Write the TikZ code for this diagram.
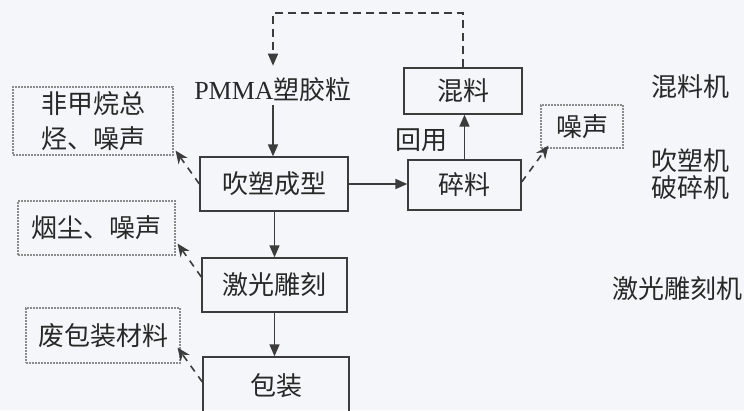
\documentclass[tikz,border=0pt]{standalone}
\usepackage{fontspec}
\setmainfont{Liberation Serif}
\newfontfamily\cjk{Noto Sans CJK SC}
\usetikzlibrary{arrows.meta,calc}
\definecolor{bg}{RGB}{244,246,249}
\definecolor{linec}{RGB}{60,60,60}
\definecolor{dotc}{RGB}{140,140,140}
\definecolor{txtc}{RGB}{40,40,40}
\tikzset{
  proc/.style={draw=linec, line width=1.3pt, inner sep=0pt, text=txtc,
    font=\cjk\fontsize{26}{28}\selectfont},
  emis/.style={draw=dotc, line width=1.1pt, dash pattern=on 1.6pt off 1.4pt, inner sep=0pt,
    text=txtc, align=center, font=\cjk\fontsize{26}{35}\selectfont},
  lbl/.style={inner sep=0pt, text=txtc, font=\cjk\fontsize{26}{28}\selectfont},
  flow/.style={draw=linec, line width=1.6pt, -{Triangle[length=12pt,width=10pt]}},
  emarr/.style={draw=linec, line width=1.6pt, dash pattern=on 7pt off 6pt,
    -{Stealth[length=13pt,width=11pt]}},
  recyc/.style={draw=linec, line width=1.5pt, dash pattern=on 8pt off 5pt,
    -{Triangle[length=12pt,width=10pt]}}
}
\begin{document}
\begin{tikzpicture}[x=1pt,y=-1pt]
\useasboundingbox[fill=bg] (0,0) rectangle (744,410);
% process boxes
\node[proc, minimum width=148pt, minimum height=54pt] (blow) at (274,184) {吹塑成型};
\node[proc, minimum width=145pt, minimum height=54pt] (laser) at (274.5,285) {激光雕刻};
\node[proc, minimum width=146pt, minimum height=58pt] (pack) at (276,386) {包装};
\node[proc, minimum width=118pt, minimum height=46pt] (mix) at (463,91) {混料};
\node[proc, minimum width=113pt, minimum height=50pt] (crush) at (464.5,185) {碎料};
% emission boxes
\node[emis, minimum width=160pt, minimum height=68pt] (em1) at (93,121) {非甲烷总\\烃、噪声};
\node[emis, minimum width=157pt, minimum height=54pt] (em2) at (96.5,228) {烟尘、噪声};
\node[emis, minimum width=154pt, minimum height=55pt] (em3) at (103,335.5) {废包装材料};
\node[emis, minimum width=82pt, minimum height=43pt] (noise) at (582,126.5) {噪声};
% raw material
\node[inner sep=0pt, text=txtc, font=\fontsize{26}{28}\selectfont] (pmma) at (273,90) {PMMA{\cjk 塑胶粒}};
% labels
\node[lbl] (reuse) at (421,140) {回用};
\node[lbl] (m1) at (690,87) {混料机};
\node[lbl] (m2) at (690,161) {吹塑机};
\node[lbl] (m3) at (690,188) {破碎机};
\node[lbl] (m4) at (677,289) {激光雕刻机};
% main flow
\draw[flow] ($(pmma.south)+(0,3)$) -- (pmma.south |- blow.north);
\draw[flow] (laser.north |- blow.south) -- (laser.north);
\draw[flow] (laser.south) -- (laser.south |- pack.north);
\draw[flow] (blow.east) -- (blow.east -| crush.west);
\draw[flow] (crush.north) -- (crush.north |- mix.south);
% recycle
\coordinate (top) at (463,13);
\draw[recyc] (mix.north) -- (top) -| ($(pmma.north)+(0,-12)$);
% emissions
\draw[emarr] (blow.west) -- ($(em1.south east)+(2,-5)$);
\draw[emarr] ($(laser.west)+(0,-8)$) -- ($(em2.south east)+(2,-12)$);
\draw[emarr] ($(pack.west)+(0,-4)$) -- ($(em3.south east)+(-3,-16)$);
\draw[emarr] ($(crush.east)+(0,-3)$) -- ($(noise.south west)+(8,-3)$);
\end{tikzpicture}
\end{document}
